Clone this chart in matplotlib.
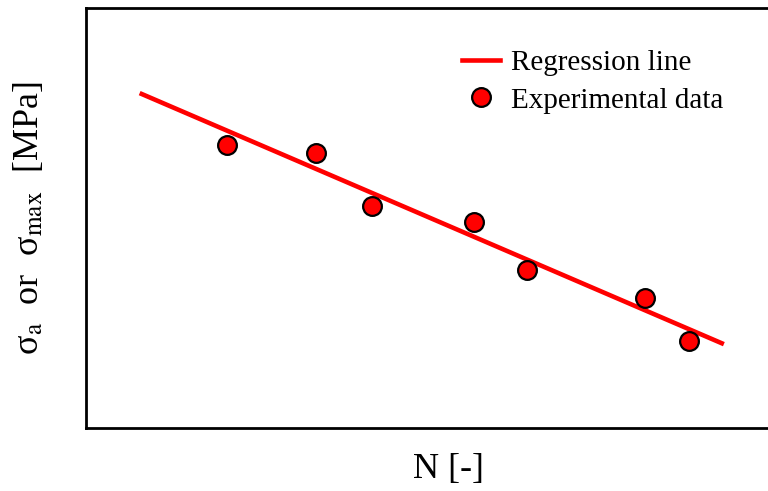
import matplotlib
matplotlib.use("Agg")
import matplotlib.pyplot as plt

plt.rcParams['font.family'] = ['Liberation Serif', 'DejaVu Serif']
plt.rcParams['mathtext.fontset'] = 'stix'

# experimental points (arbitrary units, no ticks shown)
ciclos = [2.07, 3.38, 4.21, 5.71, 6.49, 8.22, 8.87]
tensao = [6.74, 6.55, 5.29, 4.90, 3.76, 3.10, 2.07]

# regression line end points
reta_x = [0.82, 9.35]
reta_y = [7.95, 2.02]

fig = plt.figure(figsize=(7.68, 4.91), dpi=100)
ax = fig.add_axes([0.112, 0.128, 0.888, 0.856])

ax.plot(reta_x, reta_y, color='red', linewidth=3.3, label='Regression line', zorder=2)
ax.plot(ciclos, tensao, linestyle='none', marker='o', markersize=13.5,
        markerfacecolor='red', markeredgecolor='black', markeredgewidth=1.6,
        label='Experimental data', zorder=3)

ax.set_xlim(0, 10.03)
ax.set_ylim(0, 10)
ax.set_xticks([])
ax.set_yticks([])
for lado in ['left', 'bottom', 'top']:
    ax.spines[lado].set_linewidth(2)
ax.spines['right'].set_visible(False)

ax.set_xlabel('N [-]', fontsize=26)
ax.xaxis.set_label_coords(0.531, -0.058, transform=ax.transAxes)
ax.xaxis.label.set_verticalalignment('top')
ax.set_ylabel('σ$_{\\rm a}$  or  σ$_{\\rm max}$  [MPa]', fontsize=26, labelpad=29)

ax.legend(loc='upper left', bbox_to_anchor=(0.551, 0.90), frameon=False, fontsize=21,
          borderpad=0, borderaxespad=0,
          handlelength=1.3, handletextpad=0.38, labelspacing=0.37)

fig.savefig('out.png', dpi=100)
